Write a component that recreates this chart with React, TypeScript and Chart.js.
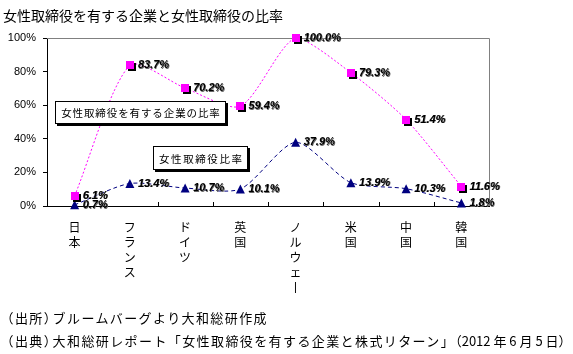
import React, { useEffect, useRef } from "react";
import { Chart, registerables } from "chart.js";

Chart.register(...registerables);

const TITLE = "女性取締役を有する企業と女性取締役の比率";
const SOURCE_LABELS = ["（出所）", "（出典）"];
const SOURCE_TEXTS = ["ブルームバーグより大和総研作成", "大和総研レポート「女性取締役を有する企業と株式リターン」"];
const SOURCE_DATE = "（2012 年 6 月 5 日）";
const COUNTRIES = ["日本", "フランス", "ドイツ", "英国", "ノルウェー", "米国", "中国", "韓国"];
const COMPANY_RATIO = [6.1, 83.7, 70.2, 59.4, 100.0, 79.3, 51.4, 11.6];
const DIRECTOR_RATIO = [0.7, 13.4, 10.7, 10.1, 37.9, 13.9, 10.3, 1.8];
const SERIES_NAMES = ["女性取締役を有する企業の比率", "女性取締役比率"];
const Y_MIN = 0;
const Y_MAX = 100;
const Y_STEP = 20;

const MAGENTA = "#FF00FF";
const NAVY = "#000080";
const CJK = "'Noto Sans CJK JP', sans-serif";

// annotation boxes (pixel rectangles) naming each series
const BOXES = [
  { text: SERIES_NAMES[0], x: 55, y: 101, w: 171, h: 23, spacing: 0.9 },
  { text: SERIES_NAMES[1], x: 153, y: 146, w: 95, h: 24, spacing: 1.6 },
];

const toVertical = (s: string) => Array.from(s).map((c) => (c === "ー" ? "丨" : c));

const decorPlugin = {
  id: "decor",
  beforeDatasetsDraw(chart: any) {
    const { ctx, chartArea } = chart;
    const { left, right, top, bottom } = chartArea;
    ctx.save();
    ctx.strokeStyle = "#808080";
    ctx.lineWidth = 1;
    ctx.beginPath();
    ctx.moveTo(left, Math.round(top) + 0.5);
    ctx.lineTo(Math.round(right) + 0.5, Math.round(top) + 0.5);
    ctx.lineTo(Math.round(right) + 0.5, bottom);
    ctx.stroke();
    const xs = chart.scales.x;
    ctx.strokeStyle = "#000";
    ctx.beginPath();
    for (let i = 0; i < COUNTRIES.length - 1; i++) {
      const px = Math.round((xs.getPixelForValue(i) + xs.getPixelForValue(i + 1)) / 2) + 0.5;
      ctx.moveTo(px, bottom);
      ctx.lineTo(px, bottom - 4);
    }
    ctx.stroke();
    ctx.restore();
  },
  afterDatasetsDraw(chart: any) {
    const { ctx } = chart;
    ctx.save();
    chart.getDatasetMeta(1).data.forEach((pt: any) => {
      ctx.fillStyle = NAVY;
      ctx.beginPath();
      ctx.moveTo(pt.x, pt.y - 4.5);
      ctx.lineTo(pt.x + 4.5, pt.y + 4.5);
      ctx.lineTo(pt.x - 4.5, pt.y + 4.5);
      ctx.closePath();
      ctx.fill();
    });
    chart.getDatasetMeta(0).data.forEach((pt: any) => {
      const x = Math.round(pt.x);
      const y = Math.round(pt.y);
      ctx.fillStyle = "#000";
      ctx.fillRect(x - 2, y - 2, 8, 8);
      ctx.fillStyle = MAGENTA;
      ctx.fillRect(x - 4, y - 4, 8, 8);
    });
    BOXES.forEach((b) => {
      ctx.fillStyle = "#000";
      ctx.fillRect(b.x + 2, b.y + 2, b.w, b.h);
      ctx.fillStyle = "#fff";
      ctx.fillRect(b.x, b.y, b.w, b.h);
      ctx.strokeStyle = "#000";
      ctx.lineWidth = 1;
      ctx.strokeRect(b.x + 0.5, b.y + 0.5, b.w - 1, b.h - 1);
      ctx.fillStyle = "#000";
      ctx.font = "10.5px " + CJK;
      (ctx as any).letterSpacing = b.spacing + "px";
      ctx.textAlign = "center";
      ctx.textBaseline = "middle";
      ctx.fillText(b.text, b.x + b.w / 2 + b.spacing / 2, b.y + b.h / 2 + 1);
      (ctx as any).letterSpacing = "0px";
    });
    ctx.font = "italic bold 11px 'Liberation Sans', Arial, sans-serif";
    ctx.textAlign = "left";
    ctx.textBaseline = "middle";
    [COMPANY_RATIO, DIRECTOR_RATIO].forEach((vals, di) => {
      chart.getDatasetMeta(di).data.forEach((pt: any, j: number) => {
        const t = vals[j].toFixed(1) + "%";
        ctx.fillStyle = "#666";
        ctx.fillText(t, pt.x + 8.7, pt.y + 0.7);
        ctx.fillStyle = "#000";
        ctx.fillText(t, pt.x + 8, pt.y);
      });
    });
    ctx.restore();
  },
};

const noteLine: React.CSSProperties = {
  position: "absolute",
  left: 7,
  fontFamily: CJK,
  fontSize: 13,
  lineHeight: "16px",
  whiteSpace: "nowrap",
  color: "#000",
  letterSpacing: "1.4px",
};
const halt: React.CSSProperties = { fontFeatureSettings: '"halt"' };

export default function App() {
  const ref = useRef<HTMLCanvasElement>(null);
  useEffect(() => {
    if (!ref.current) return;
    const chart = new Chart(ref.current, {
      type: "line",
      data: {
        labels: COUNTRIES,
        datasets: [
          {
            label: SERIES_NAMES[0],
            data: COMPANY_RATIO,
            borderColor: MAGENTA,
            borderWidth: 1,
            borderDash: [2, 2],
            tension: 0.25,
            pointRadius: 0,
            fill: false,
          },
          {
            label: SERIES_NAMES[1],
            data: DIRECTOR_RATIO,
            borderColor: NAVY,
            borderWidth: 1,
            borderDash: [4, 3],
            tension: 0.25,
            pointRadius: 0,
            fill: false,
          },
        ],
      },
      options: {
        animation: false,
        responsive: false,
        maintainAspectRatio: false,
        events: [],
        layout: { padding: { left: 0, top: 38, right: 84, bottom: 0 } },
        plugins: { legend: { display: false }, tooltip: { enabled: false }, title: { display: false } },
        scales: {
          x: {
            type: "category",
            offset: true,
            afterFit: (s: any) => {
              s.height = 148;
            },
            grid: { display: true, drawOnChartArea: false, drawTicks: false },
            border: { display: true, color: "#000", width: 1 },
            ticks: {
              autoSkip: false,
              maxRotation: 0,
              minRotation: 0,
              padding: 14,
              color: "#000",
              font: { family: CJK, size: 12, lineHeight: "15px" },
              callback: (_v: any, i: number) => toVertical(COUNTRIES[i]),
            },
          },
          y: {
            min: Y_MIN,
            max: Y_MAX,
            afterFit: (s: any) => {
              s.width = 47;
            },
            grid: { display: true, drawOnChartArea: false, drawTicks: true, tickLength: 4, color: "#000" },
            border: { display: true, color: "#000", width: 1 },
            ticks: {
              stepSize: Y_STEP,
              padding: 7,
              color: "#000",
              font: { family: "'Liberation Sans', Arial, sans-serif", size: 11 },
              callback: (v: any) => v + "%",
            },
          },
        },
      },
      plugins: [decorPlugin],
    } as any);
    return () => chart.destroy();
  }, []);

  return (
    <div style={{ position: "fixed", left: 0, top: 0, width: 573, height: 354, background: "#fff", overflow: "hidden" }}>
      <canvas ref={ref} width={573} height={354} style={{ position: "absolute", left: 0, top: 0, width: 573, height: 354 }} />
      <div style={{ position: "absolute", left: 3, top: 6, fontFamily: CJK, fontSize: 14, lineHeight: "18px", whiteSpace: "nowrap", color: "#000" }}>
        {TITLE}
      </div>
      <div style={{ ...noteLine, top: 310 }}>
        <span style={halt}>{SOURCE_LABELS[0]}</span>
        <span style={{ marginLeft: 1 }}>{SOURCE_TEXTS[0]}</span>
      </div>
      <div style={{ ...noteLine, top: 333 }}>
        <span style={halt}>{SOURCE_LABELS[1]}</span>
        <span style={{ marginLeft: 1 }}>{SOURCE_TEXTS[1]}</span>
        <span style={{ ...halt, letterSpacing: "0px" }}>{SOURCE_DATE}</span>
      </div>
    </div>
  );
}
